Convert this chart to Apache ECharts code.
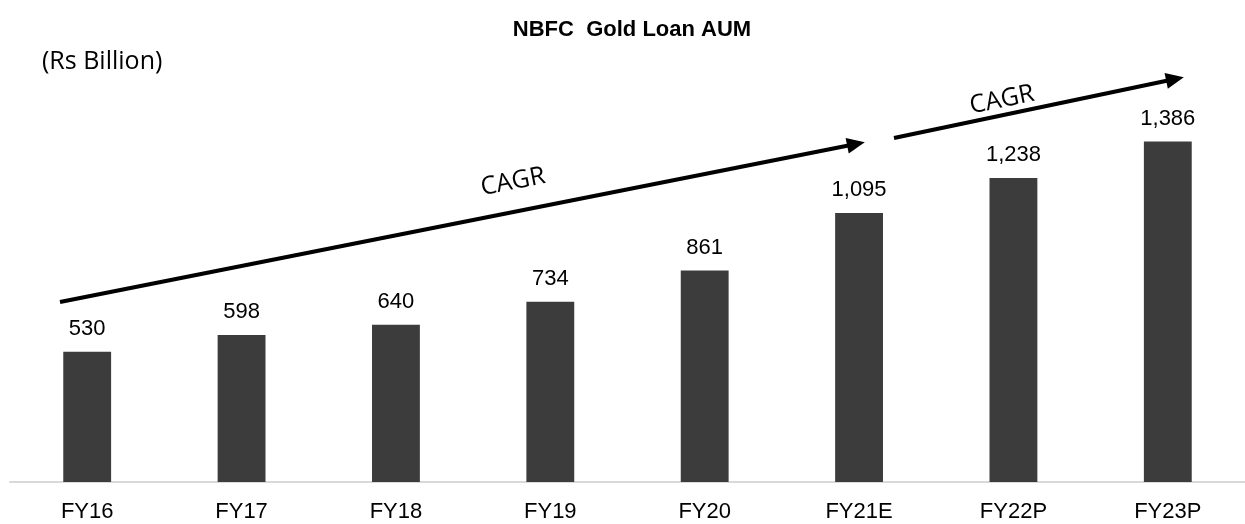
<!DOCTYPE html>
<html>
<head>
<meta charset="utf-8">
<script src="https://cdn.jsdelivr.net/npm/echarts@6/dist/echarts.min.js"></script>
<style>
  html, body { margin: 0; padding: 0; background: #fff; }
  #chart { width: 1245px; height: 524px; }
</style>
</head>
<body>
<div id="chart"></div>
<script>
// data
const years = ['FY16', 'FY17', 'FY18', 'FY19', 'FY20', 'FY21E', 'FY22P', 'FY23P']
const aum = [530, 598, 640, 734, 861, 1095, 1238, 1386]

const chart = echarts.init(document.getElementById('chart'))

const fmt = v => v.toLocaleString('en-US')

const option = {
  animation: false,
  title: {
    text: 'NBFC  Gold Loan AUM',
    left: 627,
    top: 14,
    textAlign: 'center',
    textStyle: { fontFamily: 'Liberation Sans', fontSize: 22, fontWeight: 'bold', color: '#000' }
  },
  grid: { left: 10, right: -13, top: 89, bottom: 42 },
  xAxis: {
    type: 'category',
    data: years,
    axisLine: { lineStyle: { color: '#d9d9d9', width: 2 } },
    axisTick: { show: false },
    axisLabel: { margin: 19, fontFamily: 'Liberation Sans', fontSize: 22, color: '#000' }
  },
  yAxis: {
    type: 'value',
    min: 0,
    max: 1600,
    show: false,
    splitLine: { show: false }
  },
  graphic: [
    {
      type: 'text', left: 42, top: 49,
      style: { text: '(Rs Billion)', font: '25px "Open Sans"', fill: '#000' }
    },
    {
      type: 'text', x: 513, y: 182, rotation: 0.195,
      style: { text: 'CAGR', font: '25px "Open Sans"', fill: '#000', align: 'center', verticalAlign: 'middle' }
    },
    {
      type: 'text', x: 1002, y: 100, rotation: 0.205,
      style: { text: 'CAGR', font: '25px "Open Sans"', fill: '#000', align: 'center', verticalAlign: 'middle' }
    }
  ],
  series: [{
    type: 'bar',
    data: aum,
    barWidth: '31%',
    itemStyle: { color: '#3c3c3c' },
    label: {
      show: true,
      position: 'top',
      distance: 12,
      formatter: p => fmt(p.value),
      fontFamily: 'Liberation Sans',
      fontSize: 22,
      color: '#000'
    },
    markLine: {
      silent: true,
      symbol: ['none', 'triangle'],
      symbolSize: [16, 18],
      label: { show: false },
      lineStyle: { color: '#000', width: 4, type: 'solid' },
      data: [
        [{ x: 60, y: 302 }, { x: 856, y: 144 }],
        [{ x: 894, y: 138 }, { x: 1175, y: 79 }]
      ]
    }
  }]
}

chart.setOption(option)
window.addEventListener('resize', () => chart.resize())
</script>
</body>
</html>
